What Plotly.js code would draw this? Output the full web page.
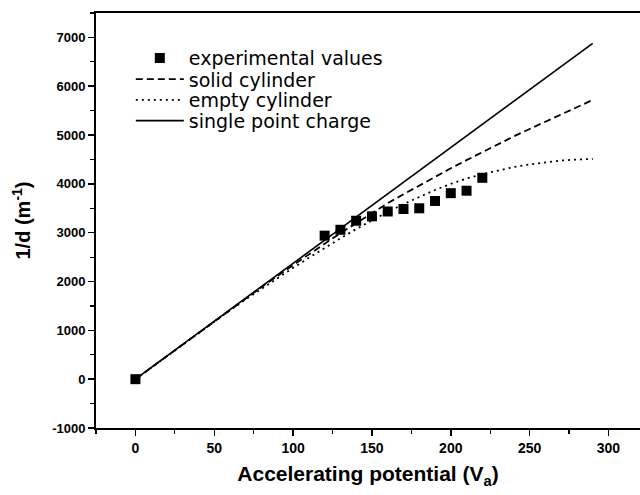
<!DOCTYPE html>
<html>
<head>
<meta charset="utf-8">
<script src="https://cdn.plot.ly/plotly-3.0.1.min.js"></script>
<style>html,body{margin:0;padding:0;background:#fff;}#chart{width:640px;height:495px;}</style>
</head>
<body>
<div id="chart"></div>
<script>
// Experimental values
var expX = [0, 120, 130, 140, 150, 160, 170, 180, 190, 200, 210, 220];
var expY = [0, 2940, 3060, 3245, 3335, 3435, 3485, 3500, 3650, 3810, 3860, 4125];

// Model curves
var curveX = [0, 10, 20, 30, 40, 50, 60, 70, 80, 90, 100, 110, 120, 130, 140, 150, 160, 170, 180, 190, 200, 210, 220, 230, 240, 250, 260, 270, 280, 290];
var solidCylY = [0, 237, 474, 712, 949, 1186, 1423, 1655, 1886, 2113, 2337, 2557, 2774, 2989, 3199, 3406, 3605, 3787, 3970, 4147, 4319, 4486, 4653, 4816, 4973, 5125, 5277, 5424, 5572, 5719];
var emptyCylY = [0, 237, 474, 712, 947, 1180, 1410, 1635, 1855, 2070, 2280, 2485, 2690, 2885, 3075, 3255, 3425, 3585, 3735, 3875, 4000, 4110, 4200, 4280, 4345, 4400, 4445, 4480, 4500, 4510];
var pointX = [0, 290];
var pointY = [0, 6880];

// Tick labels
var xTickVals = [0, 50, 100, 150, 200, 250, 300];
var xTickText = ["0", "50", "100", "150", "200", "250", "300"];
var yTickVals = [-1000, 0, 1000, 2000, 3000, 4000, 5000, 6000, 7000];
var yTickText = ["-1000", "0", "1000", "2000", "3000", "4000", "5000", "6000", "7000"];

var FONT = "Arial, 'Liberation Sans', Helvetica, sans-serif";
var LEGFONT = "'DejaVu Sans', Verdana, sans-serif";

var traces = [
  {x: expX, y: expY, mode: 'markers', name: 'experimental values', legend: 'legend',
   marker: {symbol: 'square', size: 10, color: '#000'}},
  {x: curveX, y: solidCylY, mode: 'lines', name: 'solid cylinder', legend: 'legend2',
   line: {color: '#000', width: 1.8, dash: '7px,4px'}},
  {x: curveX, y: emptyCylY, mode: 'lines', name: 'empty cylinder', legend: 'legend3',
   line: {color: '#000', width: 1.8, dash: '2px,4px'}},
  {x: pointX, y: pointY, mode: 'lines', name: 'single point charge', legend: 'legend4',
   line: {color: '#000', width: 1.6}}
];

function legendAt(yPaper) {
  return {x: 0.064, y: yPaper, xanchor: 'left', yanchor: 'top',
          bgcolor: 'rgba(0,0,0,0)', borderwidth: 0,
          font: {family: LEGFONT, size: 19, color: '#000'},
          itemwidth: 48, tracegroupgap: 0};
}

var layout = {
  width: 640, height: 495,
  margin: {l: 96, r: 0, t: 13, b: 67},
  paper_bgcolor: '#fff', plot_bgcolor: '#fff',
  showlegend: true,
  legend: legendAt(0.937),
  legend2: legendAt(0.886),
  legend3: legendAt(0.836),
  legend4: legendAt(0.786),
  xaxis: {
    range: [-25, 320], showgrid: false, zeroline: false,
    showline: true, linecolor: '#000', linewidth: 2, mirror: true,
    ticks: 'outside', ticklen: 6, tickwidth: 1.5, tickcolor: '#000',
    tickvals: xTickVals, ticktext: xTickText,
    minor: {dtick: 25, tick0: 0, ticks: 'outside', ticklen: 4, tickwidth: 1.2, tickcolor: '#000', showgrid: false},
    tickfont: {family: FONT, size: 14, color: '#000', weight: 'bold'},
    title: {text: 'Accelerating potential (V<sub>a</sub>)', standoff: 12,
            font: {family: FONT, size: 21, color: '#000', weight: 'bold'}}
  },
  yaxis: {
    range: [-1000, 7500], showgrid: false, zeroline: false,
    showline: true, linecolor: '#000', linewidth: 2, mirror: false,
    ticks: 'outside', ticklen: 6, tickwidth: 1.5, tickcolor: '#000',
    tickvals: yTickVals, ticktext: yTickText,
    minor: {dtick: 500, tick0: 0, ticks: 'outside', ticklen: 4, tickwidth: 1.2, tickcolor: '#000', showgrid: false},
    tickfont: {family: FONT, size: 13, color: '#000', weight: 'bold'},
    title: {text: '1/d (m<sup>-1</sup>)', standoff: 16,
            font: {family: FONT, size: 20, color: '#000', weight: 'bold'}}
  }
};

Plotly.newPlot('chart', traces, layout, {staticPlot: true, displayModeBar: false});
</script>
</body>
</html>
